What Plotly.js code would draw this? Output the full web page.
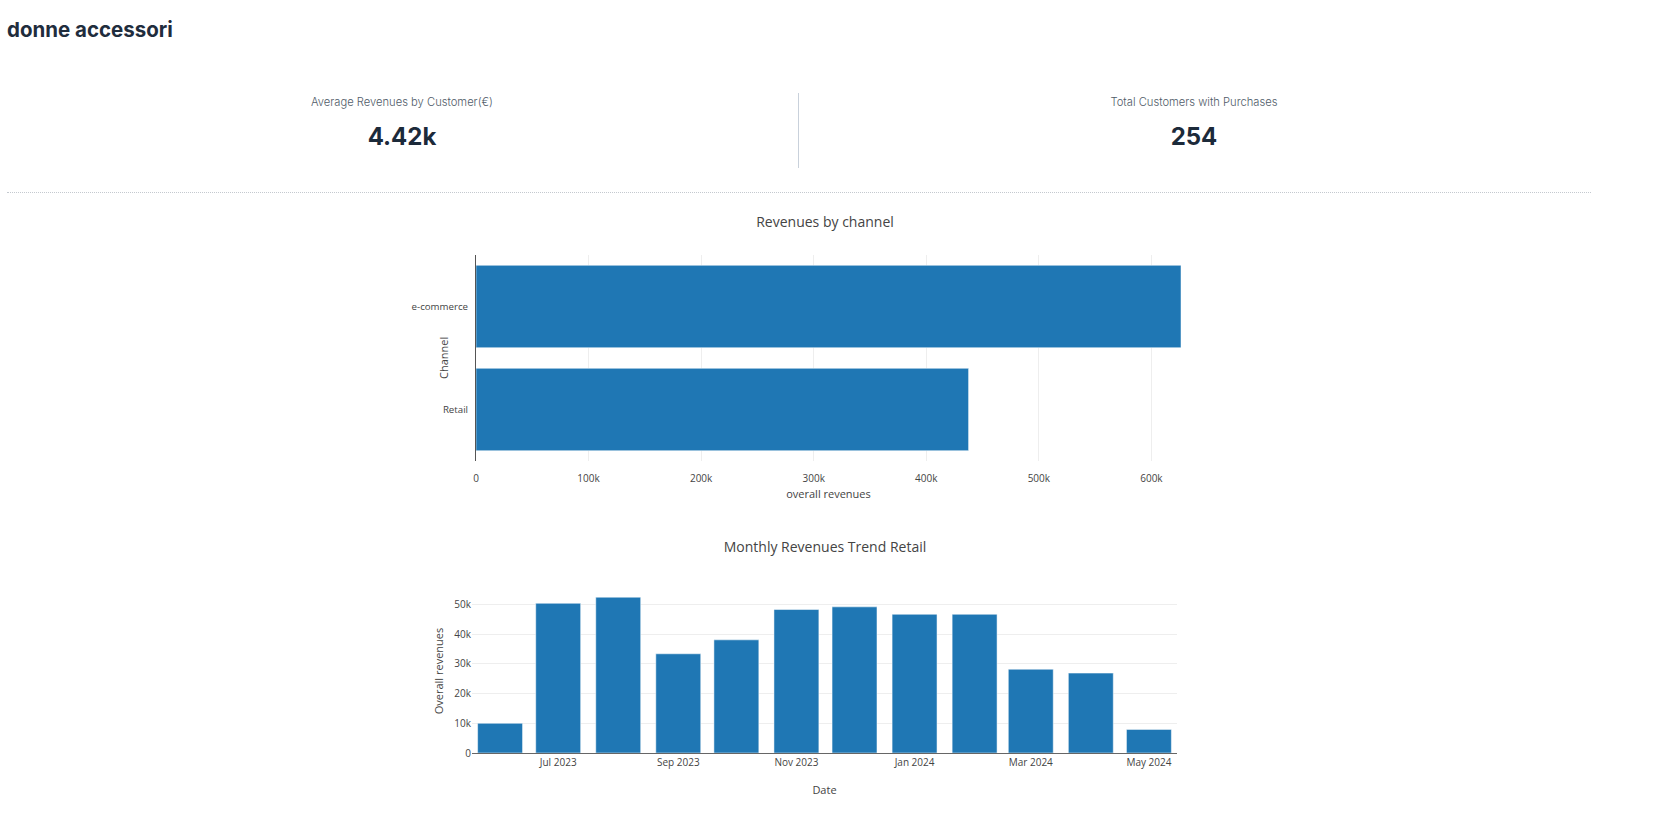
<!DOCTYPE html>
<html>
<head>
<meta charset="utf-8">
<script src="https://cdn.plot.ly/plotly-3.0.1.min.js"></script>
<style>
  html, body { margin: 0; padding: 0; background: #ffffff; }
  body { width: 1663px; height: 820px; overflow: hidden; position: relative; font-family: Inter, "Noto Sans", sans-serif; }
  .abs { position: absolute; white-space: nowrap; }
  #header { left: 7px; top: 17px; font-size: 20.5px; line-height: 26px; font-weight: 700; color: #1f2d3d; }
  .kpi-label { font-size: 11.2px; line-height: 14px; font-weight: 300; color: #4f5b68; transform: translateX(-50%); }
  .kpi-value { font-size: 24px; line-height: 30px; font-weight: 700; color: #1c2a3a; transform: translateX(-50%); }
  #divider { left: 798px; top: 93px; width: 1px; height: 75px; background: #c9d1db; }
  #dotted { left: 7px; top: 192px; width: 1584px; height: 0; border-top: 1px dotted #c4c9cf; }
  #chart1 { left: 0; top: 195px; width: 1650px; height: 310px; }
  #chart2 { left: 0; top: 520px; width: 1650px; height: 300px; }
</style>
</head>
<body>
<div id="header" class="abs"></div>
<div id="kpi1label" class="abs kpi-label" style="left:402px; top:95px;"></div>
<div id="kpi1value" class="abs kpi-value" style="left:402px; top:122px;"></div>
<div id="divider" class="abs"></div>
<div id="kpi2label" class="abs kpi-label" style="left:1194px; top:95px;"></div>
<div id="kpi2value" class="abs kpi-value" style="left:1194px; top:122px;"></div>
<div id="dotted" class="abs"></div>
<div id="chart1" class="abs"></div>
<div id="chart2" class="abs"></div>
<script>
// ---- data ----
const pageTitle = 'donne accessori';
const kpiLabels = ['Average Revenues by Customer(€)', 'Total Customers with Purchases'];
const kpiValues = ['4.42k', '254'];

const channels = ['e-commerce', 'Retail'];
const channelRevenues = [626300, 437600];

const months = ['2023-06-01', '2023-07-01', '2023-08-01', '2023-09-01', '2023-10-01', '2023-11-01',
                '2023-12-01', '2024-01-01', '2024-02-01', '2024-03-01', '2024-04-01', '2024-05-01'];
const monthlyRevenues = [10000, 50400, 52450, 33400, 38100, 48300, 49200, 46700, 46700, 28200, 26900, 7950];

// ---- text ----
document.getElementById('header').textContent = pageTitle;
document.getElementById('kpi1label').textContent = kpiLabels[0];
document.getElementById('kpi1value').textContent = kpiValues[0];
document.getElementById('kpi2label').textContent = kpiLabels[1];
document.getElementById('kpi2value').textContent = kpiValues[1];

const barColor = '#1f77b4';
const baseFont = { family: '"Open Sans", verdana, arial, sans-serif', size: 10, color: '#444' };
const config = { displayModeBar: false, staticPlot: true };

// ---- chart 1 ----
Plotly.newPlot('chart1', [{
  type: 'bar',
  orientation: 'h',
  x: channelRevenues,
  y: channels,
  marker: { color: barColor, line: { color: 'white', width: 0.5 } }
}], {
  width: 1650, height: 310,
  margin: { l: 476, r: 469, t: 60, b: 44 },
  paper_bgcolor: 'white', plot_bgcolor: 'white',
  font: baseFont,
  showlegend: false,
  title: { text: 'Revenues by channel', x: 0.5, xanchor: 'center', y: 1 - 27 / 310, yref: 'container', yanchor: 'middle',
           font: { size: 14, color: '#444' } },
  xaxis: {
    range: [0, Math.max(...channelRevenues)],
    showgrid: true, gridcolor: '#eeeeee', zeroline: false, showline: false,
    ticks: 'outside', ticklen: 8, tickcolor: 'rgba(0,0,0,0)',
    dtick: 100000, tickfont: { size: 10 },
    title: { text: 'overall revenues', font: { size: 11 }, standoff: 6 }
  },
  yaxis: {
    autorange: 'reversed', type: 'category',
    showline: true, linecolor: '#555', linewidth: 1, showgrid: false, zeroline: false,
    ticks: 'outside', ticklen: 5, tickcolor: 'rgba(0,0,0,0)',
    tickfont: { size: 9.7 }
  },
  annotations: [{
    text: 'Channel', textangle: -90, showarrow: false,
    xref: 'paper', yref: 'paper', x: 0, y: 0.5, xanchor: 'center', yanchor: 'middle', xshift: -33,
    font: { size: 11, color: '#444' }
  }]
}, config);

// ---- chart 2 ----
Plotly.newPlot('chart2', [{
  type: 'bar',
  x: months,
  y: monthlyRevenues,
  marker: { color: barColor, line: { color: 'white', width: 0.5 } }
}], {
  width: 1650, height: 300,
  margin: { l: 472, r: 473, t: 69, b: 67 },
  paper_bgcolor: 'white', plot_bgcolor: 'white',
  font: baseFont,
  showlegend: false,
  title: { text: 'Monthly Revenues Trend Retail', x: 0.5, xanchor: 'center', y: 1 - 27 / 300, yref: 'container', yanchor: 'middle',
           font: { size: 14, color: '#444' } },
  xaxis: {
    type: 'date', tickformat: '%b %Y', dtick: 'M2', tick0: '2023-07-01',
    showline: true, linecolor: '#666', linewidth: 1, showgrid: false, zeroline: false,
    tickfont: { size: 10 },
    title: { text: 'Date', font: { size: 11 }, standoff: 18 }
  },
  yaxis: {
    showgrid: true, gridcolor: '#eeeeee', zeroline: false, showline: false,
    dtick: 10000, tickfont: { size: 10 },
    title: { text: 'Overall revenues', font: { size: 11 }, standoff: 8 }
  }
}, config);
</script>
</body>
</html>
